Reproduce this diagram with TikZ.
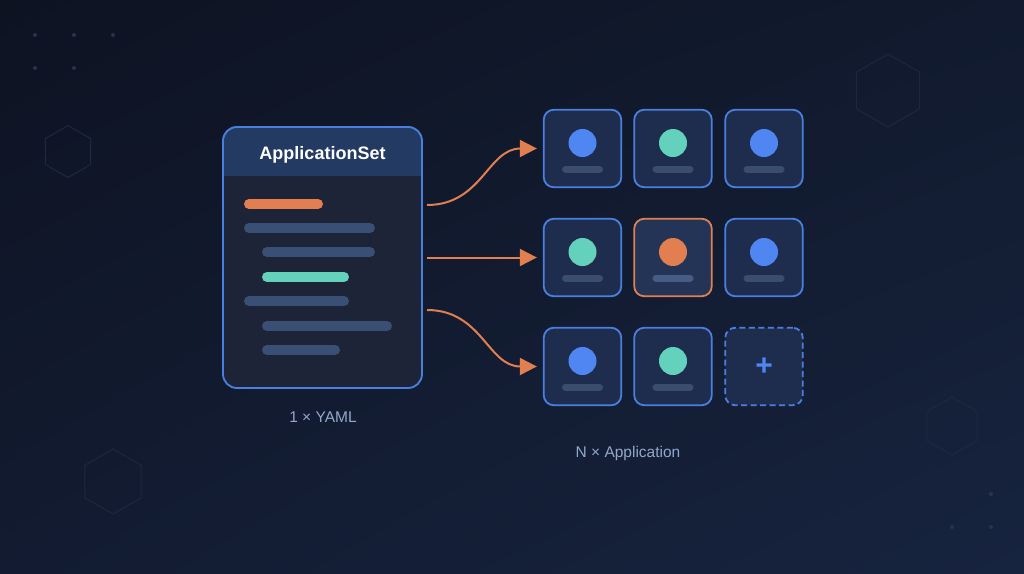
\documentclass[tikz,border=0pt]{standalone}
\usepackage{fontspec}
\setmainfont{Liberation Sans}
\usetikzlibrary{arrows.meta,shadings}
\definecolor{bgtl}{HTML}{0E1322}
\definecolor{bgtr}{HTML}{111A2E}
\definecolor{bgbl}{HTML}{121B31}
\definecolor{bgbr}{HTML}{17243F}
\definecolor{boxfill}{HTML}{1D2437}
\definecolor{hdrfill}{HTML}{233A62}
\definecolor{boxline}{HTML}{4A7FE2}
\definecolor{cardfill}{HTML}{1E2D4D}
\definecolor{cardhot}{HTML}{233456}
\definecolor{barfill}{HTML}{3A4F74}
\definecolor{tagfill}{HTML}{3A4D6F}
\definecolor{taghot}{HTML}{465C84}
\definecolor{accent}{HTML}{E27F50}
\definecolor{dotblue}{HTML}{4F86F2}
\definecolor{dotteal}{HTML}{63D1BB}
\definecolor{hexcol}{HTML}{1D2840}
\definecolor{speck}{HTML}{27344F}
\definecolor{capcol}{HTML}{93A7CC}
\begin{document}
\begin{tikzpicture}[x=1pt,y=-1pt,
  setbox/.style={draw=boxline, line width=1.8pt, rounded corners=14pt, minimum width=199pt, minimum height=261pt, inner sep=0pt},
  card/.style={draw=boxline, fill=cardfill, line width=1.8pt, rounded corners=10pt, minimum size=77.5pt, inner sep=0pt},
  bar/.style={line width=10pt, line cap=round},
  tag/.style={draw=tagfill, line width=7pt, line cap=round},
  flow/.style={draw=accent, line width=2pt, -{Triangle[length=17pt,width=17pt]}, shorten >=6pt},
  hexline/.style={draw=hexcol, line width=1pt},
  caption/.style={text=capcol, font=\fontsize{15.5}{18}\selectfont, anchor=base}]
  \useasboundingbox (0,0) rectangle (1024,573);
  \shade[upper left=bgtl, upper right=bgtr, lower left=bgbl, lower right=bgbr] (0,0) rectangle (1024,573);
  \foreach \cx/\cy/\r in {68/151.5/26, 888/90.5/36.5, 952/426/29, 113/481.5/32.5}
    \draw[hexline] (\cx,\cy) +(90:\r) -- +(150:\r) -- +(210:\r) -- +(270:\r) -- +(330:\r) -- +(30:\r) -- cycle;
  \foreach \p in {(35,35),(74,35),(113,35),(35,68),(74,68),(991,494),(952,527),(991,527)}
    \fill[speck] \p circle (2pt);

  \fill[boxfill, rounded corners=15pt] (222,126) rectangle (423,389);
  \begin{scope}
    \clip[rounded corners=15pt] (222,126) rectangle (423,389);
    \fill[hdrfill] (222,126) rectangle (423,176);
  \end{scope}
  \node[setbox] (appset) at (322.5,257.5) {};
  \node[font=\bfseries\fontsize{18}{20}\selectfont, text=white, anchor=base] (settitle) at (322.5,159) {ApplicationSet};
  \foreach \xa/\xb/\y/\c in {249/318/204/accent, 249/370/228/barfill, 267/370/252/barfill, 267/344/277/dotteal, 249/344/301/barfill, 267/387/326/barfill, 267/335/350/barfill}
    \draw[bar, \c] (\xa,\y) -- (\xb,\y);
  \node[caption] (yamlnote) at (323,422) {1 × YAML};

  \foreach \n/\x/\y/\c in {c11/582.5/148.5/dotblue, c12/673/148.5/dotteal, c13/764/148.5/dotblue, c21/582.5/257.5/dotteal, c23/764/257.5/dotblue, c31/582.5/366.5/dotblue, c32/673/366.5/dotteal} {
    \node[card] (\n) at (\x,\y) {};
    \fill[\c] (\x,\y-5.5) circle (14pt);
    \draw[tag] (\x-17,\y+20.5) -- (\x+17,\y+20.5);
  }
  \node[card, draw=accent, fill=cardhot] (c22) at (673,257.5) {};
  \fill[accent] (673,252) circle (14pt);
  \draw[tag, draw=taghot] (656,278) -- (690,278);
  \node[card, dash pattern=on 6pt off 3.5pt, text=dotblue, font=\bfseries\fontsize{30}{30}\selectfont] (c33) at (764,366.5) {+};
  \node[caption] (appnote) at (628,457.5) {N × Application};

  \coordinate (out1) at (427,205);
  \coordinate (out2) at (427,257.5);
  \coordinate (out3) at (427,310);
  \draw[flow] (out1) .. controls +(55,0) and +(-55,0) .. (c11.west);
  \draw[flow] (out2) -- (c21.west);
  \draw[flow] (out3) .. controls +(55,0) and +(-55,0) .. (c31.west);
\end{tikzpicture}
\end{document}
